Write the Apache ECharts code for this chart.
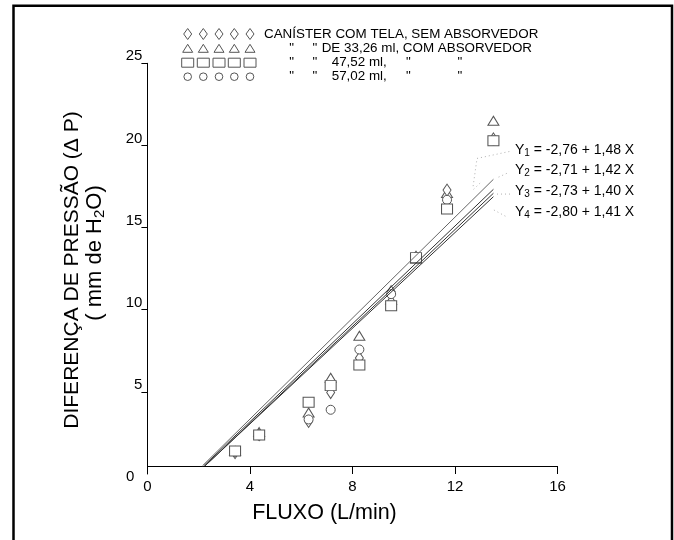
<!DOCTYPE html>
<html><head><meta charset="utf-8">
<script src="https://cdn.jsdelivr.net/npm/echarts@6/dist/echarts.min.js"></script>
<style>html,body{margin:0;padding:0;background:#fff}#c{width:674px;height:540px}</style>
</head><body><div id="c"></div>
<script>
const FONT = '"Liberation Sans", Arial, Helvetica, sans-serif';

// ---- data ----
const seriesNames = ['CANÍSTER COM TELA, SEM ABSORVEDOR', 'DE 33,26 ml, COM ABSORVEDOR', '47,52 ml', '57,02 ml'];
const flow      = [3.42, 4.36, 6.29, 7.15, 8.27, 9.51, 10.48, 11.69, 13.5];
const dpDiamond = [1.30, 2.40, 3.20, 4.96, 7.06, 11.10, 13.20, 17.28, 20.40];
const dpTriangle= [1.40, 2.55, 3.74, 5.86, 8.42, 10.60, 13.10, 17.10, 21.50];
const dpCircle  = [1.35, 2.35, 3.32, 3.91, 7.58, 10.95, 13.20, 16.69, 20.30];
const dpSquare  = [1.40, 2.38, 4.37, 5.38, 6.63, 10.24, 13.17, 16.13, 20.29];

const xTicks = [0, 4, 8, 12, 16];
const yTicks = [0, 5, 10, 15, 20, 25];

// regression lines (end points)
const fitIndex  = ['1', '2', '3', '4'];
const fitA      = ['-2,76', '-2,71', '-2,73', '-2,80'];
const fitB      = ['1,48', '1,42', '1,40', '1,41'];
const fitStartX = [2.15, 2.20, 2.25, 2.25];
const fitStartY = [0.5, 0.5, 0.5, 0.5];
const fitEndX   = [13.5, 13.5, 13.5, 13.5];
const fitEndY   = [17.94, 17.33, 16.88, 17.09];

// dotted leader segments from the equations to the lines
const leader1 = [[14.12, 19.63], [12.86, 19.21], [12.70, 17.43]];
const leader2a = [[14.02, 18.30], [13.60, 18.00]];
const leader2b = [[12.98, 17.71], [12.70, 17.29]];
const leader3 = [[13.64, 17.04], [14.15, 17.04]];
const leader4 = [[13.52, 16.07], [14.03, 15.64]];

const axisBaseY = 0.5; // x axis line drawn slightly above y = 0

// legend rows (ditto marks as in the original)
const legendLabels = ['CANÍSTER COM TELA, SEM ABSORVEDOR', 'DE 33,26 ml, COM ABSORVEDOR', '47,52 ml,', '57,02 ml,'];
const dittoMark = '"';

const xTitle = 'FLUXO (L/min)';
const yTitle1 = 'DIFERENÇA DE PRESSÃO (Δ P)';

// ---- chart ----
const STROKE = '#555';
function pts(ys) { return flow.map((x, i) => [x, ys[i]]); }
function scatter(name, ys, symbol, size) {
  return {
    name, type: 'scatter', data: pts(ys), symbol, symbolSize: size, z: 2,
    itemStyle: { color: '#fff', borderColor: STROKE, borderWidth: 1, opacity: 1 },
    emphasis: { disabled: true }, silent: true
  };
}
function line(data, style, z) {
  return { type: 'line', data, symbol: 'none', z: z, silent: true, animation: false,
    lineStyle: style, emphasis: { disabled: true } };
}

const series = [
  scatter(seriesNames[1], dpTriangle, 'triangle', [11, 9]),
  scatter(seriesNames[0], dpDiamond, 'diamond', [8, 12]),
  scatter(seriesNames[3], dpCircle, 'circle', 9),
  scatter(seriesNames[2], dpSquare, 'rect', [11, 10])
];
series[3].markLine = {
  silent: true, symbol: 'none', animation: false,
  label: { show: false },
  lineStyle: { color: '#000', width: 1, type: 'solid' },
  data: [{ yAxis: axisBaseY }]
};
for (let i = 0; i < 4; i++) {
  series.push(line([[fitStartX[i], fitStartY[i]], [fitEndX[i], fitEndY[i]]],
    { color: i === 0 ? '#666' : '#333', width: 1 }, 5));
}
[leader1, leader2a, leader2b, leader3, leader4].forEach(d =>
  series.push(line(d, { color: '#b0b0b0', width: 1, type: [1, 3] }, 4)));

// legend graphics
const legendRowY = [34, 48.3, 62.7, 76.7];
const legendSymX = [187.7, 203.3, 219, 234.3, 250];
const legendKinds = ['diamond', 'triangle', 'rect', 'circle'];
function shape(kind, cx, cy) {
  const st = { fill: '#fff', stroke: STROKE, lineWidth: 1 };
  if (kind === 'diamond') return { type: 'polygon', shape: { points: [[cx, cy - 5.5], [cx + 4, cy], [cx, cy + 5.5], [cx - 4, cy]] }, style: st };
  if (kind === 'triangle') return { type: 'polygon', shape: { points: [[cx, cy - 4], [cx + 5, cy + 4], [cx - 5, cy + 4]] }, style: st };
  if (kind === 'rect') return { type: 'rect', shape: { x: cx - 6, y: cy - 4.5, width: 12, height: 9 }, style: st };
  return { type: 'circle', shape: { cx, cy, r: 3.8 }, style: st };
}
function txt(x, y, text, align, size, extra) {
  return Object.assign({ type: 'text', x, y, style: Object.assign({ text, font: size + 'px ' + FONT, fill: '#000', align: align, verticalAlign: 'middle' }, extra || {}) });
}
const graphic = [];
legendKinds.forEach((k, r) => legendSymX.forEach(x => graphic.push(shape(k, x, legendRowY[r]))));
graphic.push(txt(264, legendRowY[0], legendLabels[0], 'left', 13.4));
for (let r = 1; r < 4; r++) {
  graphic.push(txt(291.7, legendRowY[r], dittoMark, 'center', 13.4));
  graphic.push(txt(315, legendRowY[r], dittoMark, 'center', 13.4));
}
graphic.push(txt(321.7, legendRowY[1], legendLabels[1], 'left', 13.4));
for (let r = 2; r < 4; r++) {
  graphic.push(txt(331.7, legendRowY[r], legendLabels[r], 'left', 13.4));
  graphic.push(txt(408.3, legendRowY[r], dittoMark, 'center', 13.4));
  graphic.push(txt(460, legendRowY[r], dittoMark, 'center', 13.4));
}
// equations
const eqY = [150, 170, 190.7, 211.7];
for (let i = 0; i < 4; i++) {
  graphic.push({
    type: 'text', x: 515, y: eqY[i],
    style: {
      text: '{a|Y}{s|' + fitIndex[i] + '}{a| = ' + fitA[i] + ' + ' + fitB[i] + ' X}',
      align: 'left', verticalAlign: 'middle',
      rich: {
        a: { font: '14px ' + FONT, fill: '#000' },
        s: { font: '10px ' + FONT, fill: '#000', padding: [7, 0, 0, 0] }
      }
    }
  });
}
// axis titles
graphic.push(txt(324.5, 513, xTitle, 'center', 21.5));
graphic.push({ type: 'text', x: 72, y: 270, rotation: Math.PI / 2,
  style: { text: yTitle1, font: '21px ' + FONT, fill: '#000', align: 'center', verticalAlign: 'middle' } });
graphic.push({ type: 'text', x: 95, y: 253, rotation: Math.PI / 2,
  style: { text: '{a|( mm de H}{s|2}{a|O)}', align: 'center', verticalAlign: 'middle',
    rich: { a: { font: '22px ' + FONT, fill: '#000' }, s: { font: '15px ' + FONT, fill: '#000', padding: [10, 0, 0, 0] } } } });
// outer frame
graphic.push({ type: 'rect', shape: { x: 13.5, y: 5.8, width: 658.5, height: 560 },
  style: { fill: 'none', stroke: '#000', lineWidth: 2.5 } });

const option = {
  animation: false,
  backgroundColor: '#fff',
  grid: { left: 147.4, right: 116.5, top: 63.3, bottom: 66 },
  xAxis: {
    type: 'value', min: xTicks[0], max: xTicks[xTicks.length - 1], interval: 4,
    axisLine: { show: false, onZero: false },
    axisTick: { show: true, inside: true, length: 8, lineStyle: { color: '#000', width: 1 } },
    axisLabel: { color: '#000', fontSize: 15, fontFamily: FONT, margin: 5 },
    splitLine: { show: false }
  },
  yAxis: {
    type: 'value', min: yTicks[0], max: yTicks[yTicks.length - 1], interval: 5,
    axisLine: { show: true, lineStyle: { color: '#000', width: 1 } },
    axisTick: { show: true, inside: false, length: 6, lineStyle: { color: '#000', width: 1 }, customValues: yTicks.slice(1) },
    axisLabel: {
      color: '#000', fontSize: 15, fontFamily: FONT, margin: 5,
      formatter: v => v === 0 ? '{z|0}' : '{n|' + v + '}',
      rich: {
        n: { fontSize: 15, fontFamily: FONT, color: '#000', padding: [0, 0, 14, 0] },
        z: { fontSize: 15, fontFamily: FONT, color: '#000', padding: [5, 8, 0, 0] }
      }
    },
    splitLine: { show: false }
  },
  series,
  graphic
};
const chart = echarts.init(document.getElementById('c'), null, { renderer: 'canvas' });
chart.setOption(option);
</script></body></html>
